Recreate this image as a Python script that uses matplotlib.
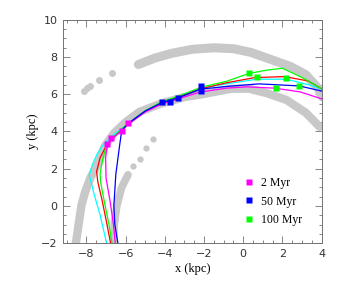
import matplotlib.pyplot as plt

# gray arm tracers
outer_dots_x = [-8.1, -7.95, -7.8, -7.35, -6.7]
outer_dots_y = [6.2, 6.32, 6.42, 6.75, 7.15]
outer_x = [-5.35, -4.5, -3.66, -2.6, -1.5, -0.5, 0.4, 1.2, 2.4, 3.2, 3.8, 4.05]
outer_y = [7.6, 7.95, 8.2, 8.42, 8.5, 8.45, 8.25, 7.95, 7.5, 7.05, 6.35, 5.85]
inner_x = [-8.55, -8.4, -8.25, -8.05, -7.8, -7.4, -7.07, -6.6, -6.0, -5.3, -4.2, -3.0,
           -2.1, -0.6, 0.3, 1.2, 2.2, 3.2, 3.9]
inner_y = [-2.1, -1.0, 0.05, 0.8, 1.5, 2.3, 3.2, 3.9, 4.5, 5.05, 5.5, 5.85,
           6.0, 6.3, 6.3, 6.06, 5.7, 5.0, 4.25]
mid_x = [-6.62, -6.58, -6.45, -6.2, -5.88]
mid_y = [-2.1, -1.0, 0.0, 1.0, 1.67]
mid_dots_x = [-5.6, -5.25, -4.95, -4.6]
mid_dots_y = [2.15, 2.5, 3.1, 3.6]

# orbit tracks
mag_x = [-6.52, -6.62, -6.8, -7.0, -7.02, -6.93, -6.6, -6.2, -5.85, -5.0, -4.15, -3.3,
         -2.2, -0.85, 0.2, 1.6, 2.9, 4.1]
mag_y = [-2.1, -1.0, 0.3, 1.5, 2.6, 3.3, 3.7, 4.05, 4.4, 5.05, 5.48, 5.76,
         6.12, 6.33, 6.4, 6.33, 6.13, 5.72]
blue_x = [-6.38, -6.55, -6.6, -6.5, -6.3, -6.2, -5.85, -5.0, -4.15, -3.35, -2.15, -0.85,
          0.8, 2.86, 4.1]
blue_y = [-2.1, -1.0, 0.0, 1.7, 3.3, 4.05, 4.45, 5.1, 5.55, 5.8, 6.28, 6.42,
          6.56, 6.45, 6.15]
red_x = [-6.75, -6.95, -7.2, -7.42, -7.48, -7.3, -6.95, -6.5, -6.0, -5.0, -4.15, -3.3,
         -2.15, -0.85, 0.6, 2.1, 3.3, 4.1]
red_y = [-2.1, -1.0, 0.3, 1.3, 1.85, 2.6, 3.3, 3.8, 4.3, 5.1, 5.55, 5.85,
         6.3, 6.62, 6.9, 6.95, 6.72, 6.24]
green_x = [-6.68, -6.85, -7.1, -7.28, -7.3, -7.15, -6.95, -6.5, -6.0, -5.0, -4.15, -3.3,
           -2.15, -0.85, 0.3, 1.2, 2.0, 3.06, 4.1]
green_y = [-2.1, -1.0, 0.3, 1.3, 1.75, 2.6, 3.33, 3.82, 4.32, 5.12, 5.6, 5.9,
           6.38, 6.7, 7.12, 7.3, 7.4, 6.87, 6.24]
cyan_x = [-6.95, -7.3, -7.6, -7.85, -7.7, -7.45, -7.1, -6.7, -6.2, -5.0, -4.15, -3.3,
          -2.15, -0.85, 0.68, 2.2, 3.38, 4.1]
cyan_y = [-2.1, -0.5, 0.6, 1.65, 2.2, 2.8, 3.35, 3.75, 4.15, 5.1, 5.57, 5.88,
          6.32, 6.56, 6.81, 6.81, 6.5, 6.24]

# star positions at the three ages
pos2_x = [-6.93, -6.75, -6.2, -5.88]
pos2_y = [3.33, 3.65, 4.03, 4.45]
pos50_x = [-4.15, -3.75, -3.35, -2.15, -2.15]
pos50_y = [5.58, 5.6, 5.8, 6.2, 6.42]
pos100_x = [0.3, 0.68, 2.17, 1.65, 2.86]
pos100_y = [7.17, 6.92, 6.88, 6.33, 6.45]

plt.rcParams['font.family'] = ['Liberation Serif', 'DejaVu Serif']
fig = plt.figure(figsize=(3.4, 2.84), dpi=100)
ax = fig.add_axes([0.185, 0.144, 0.761, 0.786])

gray = '#c8c8c8'
ax.plot(outer_x, outer_y, color=gray, lw=6.5, solid_capstyle='round', solid_joinstyle='round')
ax.plot(outer_dots_x, outer_dots_y, 'o', color=gray, ms=5, mec='none')
ax.plot(inner_x, inner_y, color=gray, lw=6, solid_capstyle='round', solid_joinstyle='round')
ax.plot(mid_x, mid_y, color=gray, lw=5.5, solid_capstyle='round', solid_joinstyle='round')
ax.plot(mid_dots_x, mid_dots_y, 'o', color=gray, ms=4.5, mec='none')

lw = 0.9
ax.plot(cyan_x, cyan_y, color='cyan', lw=lw)
ax.plot(red_x, red_y, color='red', lw=lw)
ax.plot(green_x, green_y, color='lime', lw=lw)
ax.plot(mag_x, mag_y, color='magenta', lw=lw)
ax.plot(blue_x, blue_y, color='blue', lw=lw)

ax.plot(pos2_x, pos2_y, 's', color='magenta', ms=5, mec='none', label='2 Myr')
ax.plot(pos50_x, pos50_y, 's', color='blue', ms=5, mec='none', label='50 Myr')
ax.plot(pos100_x, pos100_y, 's', color='lime', ms=5, mec='none', label='100 Myr')

ax.set_xlim(-9.2, 4)
ax.set_ylim(-2, 10)
ax.set_xticks([-8, -6, -4, -2, 0, 2, 4])
ax.set_yticks([-2, 0, 2, 4, 6, 8, 10])
ax.set_xticklabels(['\u22128', '\u22126', '\u22124', '\u22122', '0', '2', '4'],
                   family='DejaVu Sans', fontsize=8, color='0.2')
ax.set_yticklabels(['\u22122', '0', '2', '4', '6', '8', '10'],
                   family='DejaVu Sans', fontsize=8, color='0.2')
ax.minorticks_on()
ax.xaxis.set_minor_locator(plt.MultipleLocator(0.5))
ax.yaxis.set_minor_locator(plt.MultipleLocator(0.5))
ax.tick_params(which='both', direction='in', top=True, right=True, color='0.45', width=0.6)
ax.tick_params(which='major', length=5, pad=4)
ax.tick_params(which='minor', length=2.5)
for s in ax.spines.values():
    s.set_color('0.45')
    s.set_linewidth(0.7)

ax.set_xlabel('x (kpc)', fontsize=9, labelpad=3)
ax.set_ylabel('y (kpc)', fontsize=9, labelpad=1)

ax.legend(loc='lower left', bbox_to_anchor=(0.68, 0.05), frameon=False, fontsize=8.5,
          handlelength=0.8, handletextpad=0.6, labelspacing=0.55, borderpad=0)

fig.savefig('out.png', dpi=100)
